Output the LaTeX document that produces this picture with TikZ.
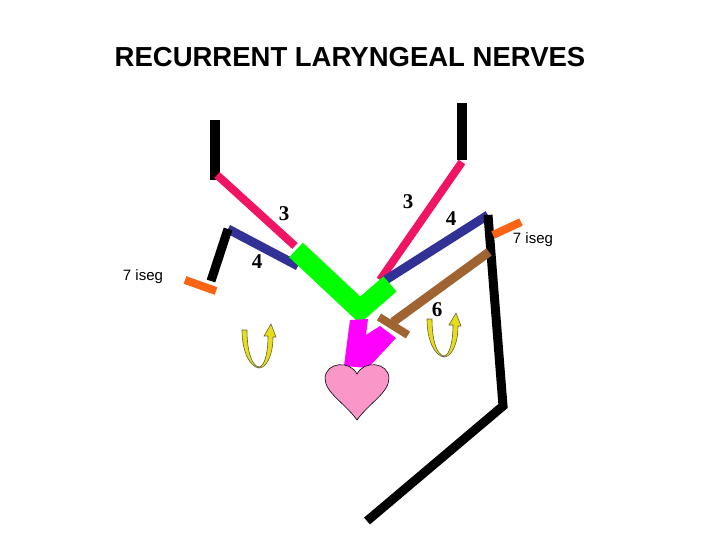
\documentclass[tikz,border=0pt]{standalone}
\usepackage{fontspec}
\setmainfont{Liberation Serif}
\newfontfamily\arial{Liberation Sans}
\definecolor{mag}{RGB}{255,0,255}
\begin{document}
\begin{tikzpicture}[x=1pt,y=-1pt,
  seg/.style={line width=#1},
  num/.style={font=\fontsize{21}{23}\selectfont\bfseries},
  lab/.style={font=\arial\fontsize{15}{17}\selectfont},
  curl/.style={draw=black!70!yellow,fill=yellow!90!black,line width=0.6pt}]
\useasboundingbox (0,0) rectangle (720,540);
\node[font=\arial\bfseries\fontsize{27.5}{30}\selectfont] (title) at (350,57) {RECURRENT LARYNGEAL NERVES};
% coordinates
\coordinate (lt) at (215,120); \coordinate (lb) at (215,180);
\coordinate (lr1) at (217,175); \coordinate (lr2) at (295,246);
\coordinate (lbl1) at (228,229); \coordinate (lbl2) at (298,266);
\coordinate (lk) at (211,281);
\coordinate (lo1) at (185,280); \coordinate (lo2) at (216,291);
\coordinate (g1) at (296,250); \coordinate (g2) at (360,310); \coordinate (g3) at (390,284);
\coordinate (rt) at (462,103); \coordinate (rb) at (462,160);
\coordinate (rr1) at (462,162); \coordinate (rr2) at (380,280);
\coordinate (rb1) at (384,281); \coordinate (rb2) at (488,215);
\coordinate (rk1) at (503,406); \coordinate (rk2) at (367,521);
\coordinate (ro1) at (493,235); \coordinate (ro2) at (521,222);
\coordinate (br1) at (393,322); \coordinate (br2) at (489,252);
\coordinate (bc1) at (379,317); \coordinate (bc2) at (408,335);
% left side
\draw[seg=10] (lt) -- (lb);
\draw[seg=8,draw={rgb,255:red,240;green,20;blue,100}] (lr1) -- (lr2);
\draw[seg=9,draw={rgb,255:red,50;green,50;blue,150}] (lbl1) -- (lbl2);
\draw[seg=9] (lk) -- (lbl1);
\draw[seg=8,draw={rgb,255:red,250;green,100;blue,20}] (lo1) -- (lo2);
% right side
\draw[seg=10] (rt) -- (rb);
\draw[seg=8,draw={rgb,255:red,240;green,20;blue,100}] (rr1) -- (rr2);
\draw[seg=9,draw={rgb,255:red,50;green,50;blue,150}] (rb1) -- (rb2);
\draw[seg=9,line join=miter] (rb2) -- (rk1) -- (rk2);
\draw[seg=8,draw={rgb,255:red,250;green,100;blue,20}] (ro1) -- (ro2);
\draw[seg=9,draw={rgb,255:red,160;green,100;blue,50}] (br1) -- (br2);
\draw[seg=8,draw={rgb,255:red,160;green,100;blue,50}] (bc1) -- (bc2);
% green
\draw[seg=20,draw={rgb,255:red,0;green,255;blue,0}] (g1) -- (g2) -- (g3);
% magenta
\fill[mag] (350,320) -- (368,319) -- (366,335) -- (380,326) -- (396,338) -- (368,368) -- (344,366) -- cycle;
% heart
\draw[fill={rgb,255:red,250;green,150;blue,200},line width=0.6pt]
  (357,374) .. controls (350,360) and (326,362) .. (325,378)
  .. controls (325,393) and (345,403) .. (357,420)
  .. controls (369,403) and (389,393) .. (389,378)
  .. controls (388,362) and (364,360) .. (357,374) -- cycle;
% curled arrows
\draw[curl] (247,330) .. controls (247,352) and (252,366) .. (259,367)
  .. controls (265,366) and (268,352) .. (268,336) -- (264,336) -- (271,324) -- (276,337) -- (273,337)
  .. controls (273,356) and (266,368) .. (259,368) .. controls (250,367) and (242,352) .. (242,330) -- cycle;
\draw[curl] (432,319) .. controls (432,341) and (437,355) .. (444,356)
  .. controls (450,355) and (453,341) .. (453,325) -- (449,325) -- (456,313) -- (461,326) -- (458,326)
  .. controls (458,345) and (451,357) .. (444,357) .. controls (435,356) and (427,341) .. (427,319) -- cycle;
% labels
\node[num] (n1) at (284,214) {3};
\node[num] (n2) at (408,202) {3};
\node[num] (n3) at (451,219) {4};
\node[num] (n4) at (257,262) {4};
\node[num] (n5) at (437,310) {6};
\node[lab] (i1) at (143,277) {7 iseg};
\node[lab] (i2) at (533,240) {7 iseg};
\end{tikzpicture}
\end{document}
